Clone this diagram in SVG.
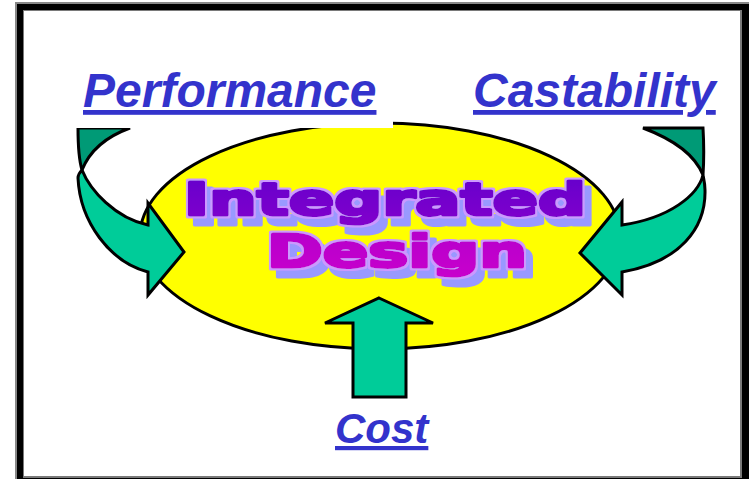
<svg xmlns="http://www.w3.org/2000/svg" width="749" height="479" viewBox="0 0 749 479">
  <defs>
    <linearGradient id="gInt" x1="0" y1="0" x2="0" y2="1">
      <stop offset="0" stop-color="#6400CC"/>
      <stop offset="1" stop-color="#8200CC"/>
    </linearGradient>
    <linearGradient id="gDes" x1="0" y1="0" x2="0" y2="1">
      <stop offset="0" stop-color="#B400CC"/>
      <stop offset="1" stop-color="#C800CC"/>
    </linearGradient>
    <filter id="wordart" x="-5%" y="-30%" width="115%" height="170%">
      <feMorphology in="SourceAlpha" operator="dilate" radius="2" result="d"/>
      <feFlood flood-color="#CC99FF" result="c1"/>
      <feComposite in="c1" in2="d" operator="in" result="outline"/>
      <feOffset in="d" dx="7" dy="8" result="od"/>
      <feFlood flood-color="#9999FF" result="c2"/>
      <feComposite in="c2" in2="od" operator="in" result="shadow"/>
      <feMerge>
        <feMergeNode in="shadow"/>
        <feMergeNode in="outline"/>
        <feMergeNode in="SourceGraphic"/>
      </feMerge>
    </filter>
  </defs>
  <style>
    .lbl { font-family: "Liberation Sans", Arial, sans-serif; font-weight: bold; font-style: italic; fill: #3333CC; text-decoration: underline; }
    .big { font-family: "DejaVu Sans", sans-serif; font-weight: bold; font-size: 45px; stroke-width: 3; stroke-linejoin: round; filter: url(#wordart); }
    .arr { fill: #00CC99; stroke: #000; stroke-width: 3; stroke-linejoin: miter; }
    .back { fill: #009A76; stroke: #000; stroke-width: 3; stroke-linejoin: miter; }
  </style>

  <g id="frame">
    <rect x="15" y="2" width="734" height="477" fill="#888"/>
    <rect x="17" y="4" width="732" height="475" fill="#000"/>
    <rect x="23" y="10" width="719" height="468" fill="#7a7a7a"/>
    <rect x="24" y="11" width="716" height="465" fill="#fff"/>
  </g>

  <g id="integrated-design">
    <ellipse cx="380" cy="236" rx="240" ry="113" fill="#FFFF00" stroke="#000" stroke-width="3"/>
  </g>

  <g id="connectors">
    <g id="arrow-performance">
      <path class="back" d="M78,128 L130,128 C108,136 90,150 82,170 C79,160 78,145 78,128 Z"/>
      <path class="arr" d="M82,170 C90,190 115,218 148,225 L148,203 L184,252 L148,295 L148,272 C110,262 80,222 78,178 C78,174 80,172 82,170 Z"/>
    </g>
    <g id="arrow-castability">
      <path class="back" d="M643,128 L703,128 C704,145 704,160 703,175 C695,155 675,140 643,128 Z"/>
      <path class="arr" d="M703,175 C698,195 670,218 622,225 L622,202 L580,253 L622,295 L622,272 C680,262 706,228 705,190 C705,184 704,180 703,175 Z"/>
    </g>
    <g id="arrow-cost">
      <path class="arr" d="M379,298 L433,323 L406,323 L406,397 L353,397 L353,323 L325,323 Z"/>
    </g>
  </g>

  <g id="performance">
    <rect x="60" y="55" width="333" height="73" fill="#fff"/>
    <text class="lbl" x="83" y="107" font-size="48">Performance</text>
  </g>

  <g id="castability">
    <text class="lbl" x="473" y="107" font-size="48">Castability</text>
  </g>

  <g id="cost">
    <text class="lbl" x="335" y="443" font-size="42">Cost</text>
  </g>

  <g id="integrated-design-text">
    <text class="big" x="184" y="215" textLength="402" lengthAdjust="spacingAndGlyphs" fill="url(#gInt)" stroke="url(#gInt)">Integrated</text>
    <text class="big" x="267" y="267" textLength="260" lengthAdjust="spacingAndGlyphs" fill="url(#gDes)" stroke="url(#gDes)">Design</text>
  </g>
</svg>
